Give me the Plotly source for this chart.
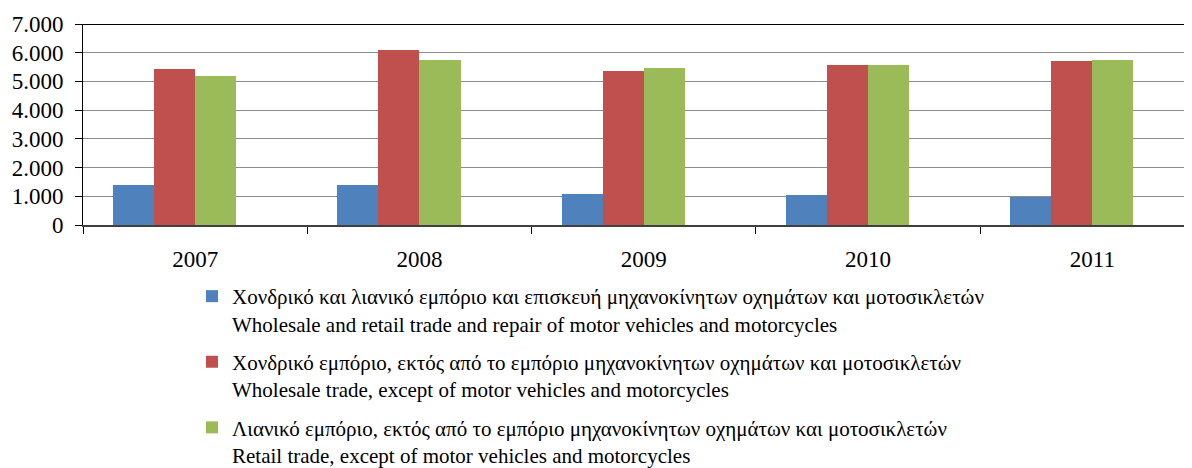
import plotly.graph_objects as go

years = ['2007', '2008', '2009', '2010', '2011']

total_trade = [1390, 1390, 1080, 1045, 975]
wholesale = [5430, 6095, 5365, 5575, 5710]
retail = [5190, 5745, 5470, 5575, 5745]

series_names = [
    'Χονδρικό και λιανικό εμπόριο και επισκευή μηχανοκίνητων οχημάτων και μοτοσικλετών<br>'
    'Wholesale and retail trade and repair of motor vehicles and motorcycles',
    'Χονδρικό εμπόριο, εκτός από το εμπόριο μηχανοκίνητων οχημάτων και μοτοσικλετών<br>'
    'Wholesale trade, except of motor vehicles and motorcycles',
    'Λιανικό εμπόριο, εκτός από το εμπόριο μηχανοκίνητων οχημάτων και μοτοσικλετών<br>'
    'Retail trade, except of motor vehicles and motorcycles',
]
colors = ['#4F81BD', '#C0504D', '#9BBB59']

FONT = 'Liberation Serif'

# page body has an 8px margin, so the figure is 8px smaller than the window
W, H = 1184, 460

# excel layout: 4 slots per category (4th one empty), so groups sit left of centre
bar_w = 0.183
offsets = [-0.366, -0.183, 0.0]

fig = go.Figure()
for i, (vals, name, col) in enumerate(zip([total_trade, wholesale, retail], series_names, colors)):
    fig.add_trace(go.Bar(
        x=years,
        y=vals,
        name=name,
        marker=dict(color=col, line=dict(width=0)),
        width=bar_w,
        offset=offsets[i],
        legendgroup=f'g{i}',
    ))

fig.update_layout(
    width=W,
    height=H,
    margin=dict(l=75, r=0, t=16, b=243, autoexpand=False),
    plot_bgcolor='white',
    paper_bgcolor='white',
    separators=',.',
    font=dict(family=FONT, color='black'),
    showlegend=True,
    legend=dict(
        xref='container', yref='container',
        x=184 / W, y=1 - 268 / H,
        xanchor='left', yanchor='top',
        font=dict(family=FONT, size=21, color='black'),
        valign='top',
        tracegroupgap=8,
        itemwidth=30,
        bgcolor='rgba(0,0,0,0)',
    ),
    bargap=0,
)

fig.update_xaxes(
    type='category',
    range=[-0.5, 4.444],
    tickson='boundaries',
    ticks='outside',
    ticklen=7,
    tickcolor='black',
    tickangle=0,
    showline=True,
    linecolor='#404040',
    linewidth=2,
    showgrid=False,
    tickfont=dict(family=FONT, size=23, color='black'),
    ticklabelstandoff=12,
)

fig.update_yaxes(
    range=[0, 7000],
    dtick=1000,
    tickformat=',d',
    ticks='outside',
    ticklen=7,
    tickcolor='black',
    showline=True,
    linecolor='black',
    linewidth=1,
    showgrid=True,
    gridcolor='#8C8C8C',
    gridwidth=1,
    zeroline=False,
    tickfont=dict(family=FONT, size=23, color='black'),
    ticklabelstandoff=7,
)

# top border of the plot area (dark line at 7.000)
fig.add_shape(type='line', xref='paper', yref='y', x0=0, x1=1, y0=7000, y1=7000,
              line=dict(color='black', width=2))

fig.write_html('out.html')
